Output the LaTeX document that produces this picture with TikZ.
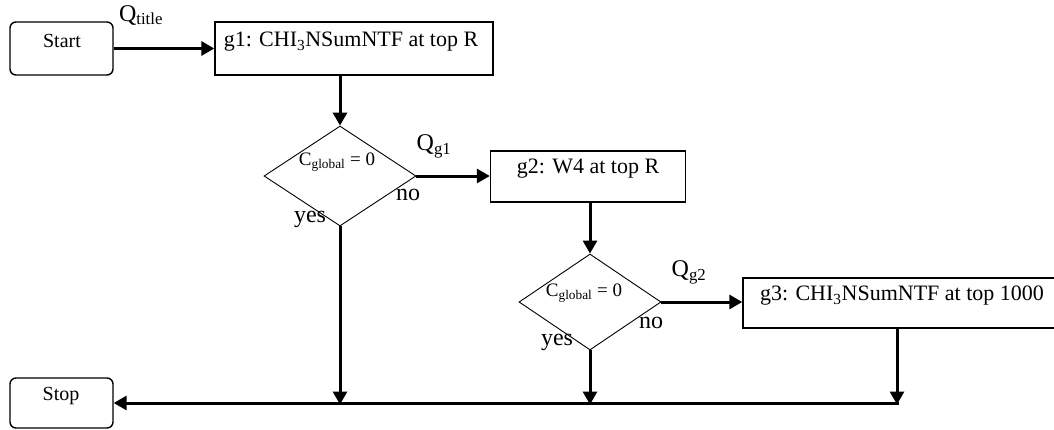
\documentclass[tikz,border=0pt]{standalone}
\usepackage{fontspec}
\setmainfont{Liberation Serif}
\usetikzlibrary{shapes.geometric,arrows.meta}
\begin{document}
\begin{tikzpicture}[x=1pt,y=-1pt,
  box/.style={draw=black,line width=1.4pt,inner sep=0pt,fill=white},
  rbox/.style={box,rounded corners=6pt},
  dia/.style={draw=black,line width=0.9pt,diamond,inner sep=0pt},
  txt/.style={inner sep=0pt,font=\fontsize{22}{24}\selectfont},
  stxt/.style={inner sep=0pt,font=\fontsize{20}{22}\selectfont},
  ctxt/.style={inner sep=0pt,font=\fontsize{19}{21}\selectfont},
  yn/.style={inner sep=0pt,font=\fontsize{24}{26}\selectfont},
  qlab/.style={inner sep=0pt,font=\fontsize{24}{26}\selectfont},
  flow/.style={line width=3pt,-{Triangle[length=13pt,width=14pt]}}]
\useasboundingbox[fill=white] (0,0) rectangle (1054,429);
% boxes
\node[rbox,minimum width=103pt,minimum height=53pt] (start) at (61.5,48.5) {};
\node[stxt] (startt) at (62,41) {Start};
\node[box,minimum width=278pt,minimum height=53pt] (g1) at (354,48.5) {};
\node[txt] (g1t) at (351,42) {g1: CHI\textsubscript{3}NSumNTF at top R};
\node[dia,minimum width=152pt,minimum height=100pt] (d1) at (340,176) {};
\node[ctxt] (d1t) at (337,162) {C\textsubscript{global} = 0};
\node[box,minimum width=195pt,minimum height=51pt] (g2) at (588,176.5) {};
\node[txt] (g2t) at (588,169) {g2: W4 at top R};
\node[dia,minimum width=142pt,minimum height=96pt] (d2) at (590,302) {};
\node[ctxt] (d2t) at (584,293) {C\textsubscript{global} = 0};
\node[box,minimum width=330pt,minimum height=50pt] (g3) at (908,303) {};
\node[txt] (g3t) at (902,296) {g3: CHI\textsubscript{3}NSumNTF at top 1000};
\node[rbox,minimum width=103pt,minimum height=50pt] (stop) at (61.5,403) {};
\node[stxt] (stopt) at (61,396) {Stop};
% labels
\node[qlab] (qt) at (141,15) {Q\textsubscript{title}};
\node[qlab] (q1) at (434,146) {Q\textsubscript{g1}};
\node[qlab] (q2) at (689,272) {Q\textsubscript{g2}};
\node[yn] (no1) at (408,195) {no};
\node[yn] (yes1) at (310,219) {yes};
\node[yn] (no2) at (651,323) {no};
\node[yn] (yes2) at (557,342) {yes};
% junctions on bottom line
\coordinate (j1) at (340,403);
\coordinate (j2) at (590,403);
\coordinate (j3) at (897,403);
% connectors
\draw[flow] (start.east) -- (g1.west);
\draw[flow] (g1.south -| d1.north) -- (d1.north);
\draw[flow] (d1.east) -- (g2.west |- d1.east);
\draw[flow] (g2.south -| d2.north) -- (d2.north);
\draw[flow] (d2.east) -- (g3.west |- d2.east);
\draw[flow] (d1.south) -- ([yshift=-1.5pt]j1);
\draw[flow] (d2.south) -- ([yshift=-1.5pt]j2);
\draw[flow] (g3.south -| j3) -- ([yshift=-1.5pt]j3);
\draw[flow] ([xshift=1.5pt]j3) -- (stop.east);
\end{tikzpicture}
\end{document}
